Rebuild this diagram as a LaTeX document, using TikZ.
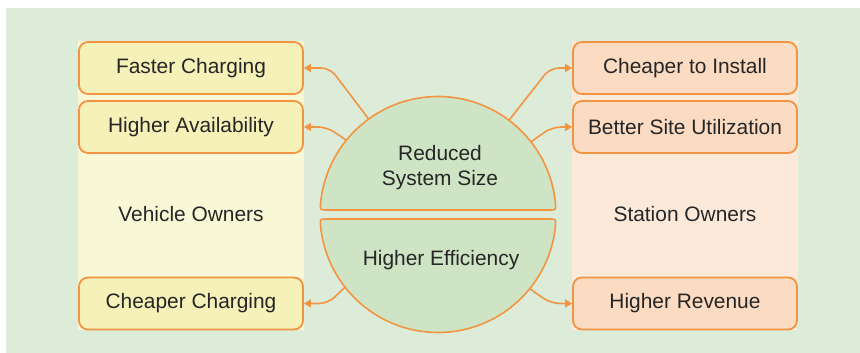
\documentclass[tikz,border=0pt]{standalone}
\usepackage{fontspec}
\setmainfont{Liberation Sans}
\usetikzlibrary{arrows.meta}
\definecolor{bggreen}{RGB}{221,235,217}
\definecolor{ypanel}{RGB}{248,247,214}
\definecolor{ybox}{RGB}{246,241,184}
\definecolor{opanel}{RGB}{252,233,217}
\definecolor{obox}{RGB}{251,219,194}
\definecolor{cgreen}{RGB}{207,228,196}
\definecolor{orangeline}{RGB}{243,148,66}
\definecolor{txt}{RGB}{38,38,38}
\tikzset{
  x=1pt,y=1pt,
  lbl/.style={font=\fontsize{20.9}{25}\selectfont, text=txt, align=center},
  ybenefit/.style={lbl, draw=orangeline, fill=ybox, line width=1.8pt, rounded corners=9pt,
    minimum width=224pt, minimum height=52pt, inner sep=0pt},
  obenefit/.style={ybenefit, fill=obox},
  link/.style={draw=orangeline, line width=1.6pt, rounded corners=9pt,
    -{Triangle[length=7pt,width=8pt]}},
  half/.style={draw=orangeline, fill=cgreen, line width=1.6pt, line join=round}
}
\begin{document}
\begin{tikzpicture}
\useasboundingbox (0,0) rectangle (860,353);
\fill[bggreen] (6,0) rectangle (860,345);
% panels
\fill[ypanel] (78,23) rectangle (304,312);
\fill[opanel] (572,23) rectangle (798,312);
% group labels
\node[lbl] (veh) at (191,139) {Vehicle Owners};
\node[lbl] (sta) at (685,139) {Station Owners};
% boxes
\node[ybenefit] (fc) at (191,285) {Faster Charging};
\node[ybenefit] (ha) at (191,226) {Higher Availability};
\node[ybenefit] (cc) at (191,49.5) {Cheaper Charging};
\node[obenefit] (ci) at (685,285) {Cheaper to Install};
\node[obenefit] (bs) at (685,226) {Better Site Utilization};
\node[obenefit] (hr) at (685,49.5) {Higher Revenue};
% circle halves
\coordinate (c) at (438,138.5);
\node[circle, minimum size=236pt, inner sep=0pt, outer sep=0pt] (circ) at (c) {};
\draw[half] (549.4,143) .. controls (555.9,143) .. ([shift={(5.3:118)}]c)
  arc[start angle=5.3, end angle=174.7, radius=118]
  .. controls (320.1,143) .. (326.6,143) -- cycle;
\draw[half] (549.4,134) .. controls (555.9,134) .. ([shift={(-5.3:118)}]c)
  arc[start angle=-5.3, end angle=-174.7, radius=118]
  .. controls (320.1,134) .. (326.6,134) -- cycle;
\node[lbl] (rss) at (440,185.5) {Reduced\\System Size};
\node[lbl] (he) at (441,93) {Higher Efficiency};
% connectors
\draw[link] (circ.126.5) -- (330,285) -- (fc.east);
\draw[link] (circ.141.5) -- (327,226) -- (ha.east);
\draw[link] (circ.218.9) -- (328,49.5) -- (cc.east);
\draw[link] (circ.53.5) -- (550,285) -- (ci.west);
\draw[link] (circ.38.2) -- (552,226) -- (bs.west);
\draw[link] (circ.-39.4) -- (551,49.5) -- (hr.west);
\end{tikzpicture}
\end{document}
